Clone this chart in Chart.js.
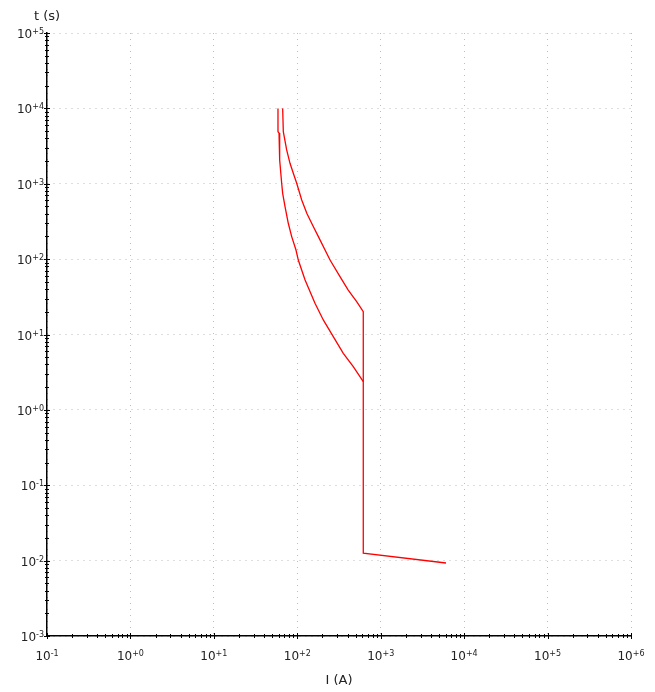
<!DOCTYPE html>
<html>
<head>
<meta charset="utf-8">
<script src="https://cdn.jsdelivr.net/npm/chart.js@4"></script>
<style>
    html, body { margin: 0; padding: 0; background: #fff; }
    #chart { display: block; }
</style>
</head>
<body>
<canvas id="chart" width="655" height="692"></canvas>
<script>
// trip curve data - current in A, time in s

// lower (min) curve
const minCurrent = [58.7, 58.7, 60.4, 61.5, 65.0, 66.8, 71.3, 78.0, 85.7, 96.5, 102.8, 124, 163, 205, 270, 356, 469, 618];
const minTime = [10000, 4910, 4710, 2065, 1014, 747, 496, 299, 199, 132, 97.3, 52.8, 25.9, 15.6, 9.35, 5.63, 3.74, 2.37];

// upper (max) curve, incl. instantaneous part
const maxCurrent = [66.8, 68.0, 74.6, 81.8, 89.6, 98.4, 113, 130, 156, 179, 247, 325, 408, 515, 618, 618, 6060];
const maxTime = [10000, 4910, 2805, 1868, 1376, 1014, 609, 405, 269, 199, 97.3, 58.5, 38.9, 27.2, 20.1, 0.0126, 0.0093];

// axis ticks (base "10" + exponent)
const xTickValues = [0.1, 1, 10, 100, 1000, 10000, 100000, 1000000];
const xTickLabels = ['10-1', '10+0', '10+1', '10+2', '10+3', '10+4', '10+5', '10+6'];
const yTickValues = [0.001, 0.01, 0.1, 1, 10, 100, 1000, 10000, 100000];
const yTickLabels = ['10-3', '10-2', '10-1', '10+0', '10+1', '10+2', '10+3', '10+4', '10+5'];

const FONT = '"DejaVu Sans", Verdana, sans-serif';
const TEXT_COLOR = '#222';

function toPoints(xs, ys) {
    return xs.map((x, i) => ({ x: x, y: ys[i] }));
}

// draws "10" with a raised exponent
function drawPowerLabel(ctx, text, x, y, align) {
    const base = text.slice(0, 2);
    const exp = text.slice(2);
    ctx.font = '12px ' + FONT;
    const wb = ctx.measureText(base).width;
    ctx.font = '8px ' + FONT;
    const we = ctx.measureText(exp).width;
    const left = align === 'right' ? x - wb - we : x - (wb + we) / 2;
    ctx.font = '12px ' + FONT;
    ctx.fillText(base, left, y);
    ctx.font = '8px ' + FONT;
    ctx.fillText(exp, left + wb, y - 4);
}

// minor + major tick marks crossing the axis lines, tick labels, y title
const axisDecor = {
    id: 'axisDecor',
    afterDraw(chart) {
        const ctx = chart.ctx;
        const xs = chart.scales.x;
        const ys = chart.scales.y;
        const area = chart.chartArea;
        ctx.save();
        ctx.strokeStyle = '#000';
        ctx.lineWidth = 1;
        ctx.beginPath();
        for (let e = -1; e <= 5; e++) {
            for (let m = 1; m <= 9; m++) {
                const px = Math.round(xs.getPixelForValue(m * Math.pow(10, e))) + 0.5;
                const len = m === 1 ? 3 : 2;
                ctx.moveTo(px, area.bottom - len);
                ctx.lineTo(px, area.bottom + len);
            }
        }
        const px = Math.round(xs.getPixelForValue(1e6)) + 0.5;
        ctx.moveTo(px, area.bottom - 3);
        ctx.lineTo(px, area.bottom + 3);
        for (let e = -3; e <= 4; e++) {
            for (let m = 1; m <= 9; m++) {
                const py = Math.round(ys.getPixelForValue(m * Math.pow(10, e))) + 0.5;
                const len = m === 1 ? 3 : 2;
                ctx.moveTo(area.left - len, py);
                ctx.lineTo(area.left + len, py);
            }
        }
        const py = Math.round(ys.getPixelForValue(1e5)) + 0.5;
        ctx.moveTo(area.left - 3, py);
        ctx.lineTo(area.left + 3, py);
        ctx.stroke();

        ctx.fillStyle = TEXT_COLOR;
        ctx.textAlign = 'left';
        ctx.textBaseline = 'alphabetic';
        xTickValues.forEach((v, i) => {
            drawPowerLabel(ctx, xTickLabels[i], xs.getPixelForValue(v), area.bottom + 24, 'center');
        });
        yTickValues.forEach((v, i) => {
            drawPowerLabel(ctx, yTickLabels[i], area.left - 3, ys.getPixelForValue(v) + 5, 'right');
        });

        // y axis title sits on top of the axis
        ctx.font = '13px ' + FONT;
        ctx.textAlign = 'center';
        ctx.textBaseline = 'middle';
        ctx.fillText('t (s)', area.left, 17);
        ctx.restore();
    }
};

const ctx = document.getElementById('chart').getContext('2d');
new Chart(ctx, {
    type: 'scatter',
    data: {
        datasets: [
            {
                label: 'min',
                data: toPoints(minCurrent, minTime),
                showLine: true,
                borderColor: '#ff0000',
                borderWidth: 1.3,
                pointRadius: 0,
                tension: 0
            },
            {
                label: 'max',
                data: toPoints(maxCurrent, maxTime),
                showLine: true,
                borderColor: '#ff0000',
                borderWidth: 1.3,
                pointRadius: 0,
                tension: 0
            }
        ]
    },
    options: {
        responsive: false,
        animation: false,
        layout: { padding: { top: 33, right: 24, left: 0, bottom: 0 } },
        plugins: {
            legend: { display: false },
            tooltip: { enabled: false }
        },
        scales: {
            x: {
                type: 'logarithmic',
                min: 0.1,
                max: 1000000,
                afterBuildTicks: s => { s.ticks = xTickValues.map(v => ({ value: v })); },
                afterFit: s => { s.height = 56; },
                grid: { color: '#bdbdbd', lineWidth: 1, drawTicks: false },
                border: { display: true, color: '#000', width: 1.5, dash: [1, 5] },
                ticks: { display: false },
                title: {
                    display: true,
                    text: 'I (A)',
                    color: TEXT_COLOR,
                    font: { family: FONT, size: 13 },
                    padding: { top: 4, bottom: 4 }
                }
            },
            y: {
                type: 'logarithmic',
                min: 0.001,
                max: 100000,
                afterBuildTicks: s => { s.ticks = yTickValues.map(v => ({ value: v })); },
                afterFit: s => { s.width = 47; },
                grid: { color: '#bdbdbd', lineWidth: 1, drawTicks: false },
                border: { display: true, color: '#000', width: 1.5, dash: [1, 5] },
                ticks: { display: false }
            }
        }
    },
    plugins: [axisDecor]
});
</script>
</body>
</html>
